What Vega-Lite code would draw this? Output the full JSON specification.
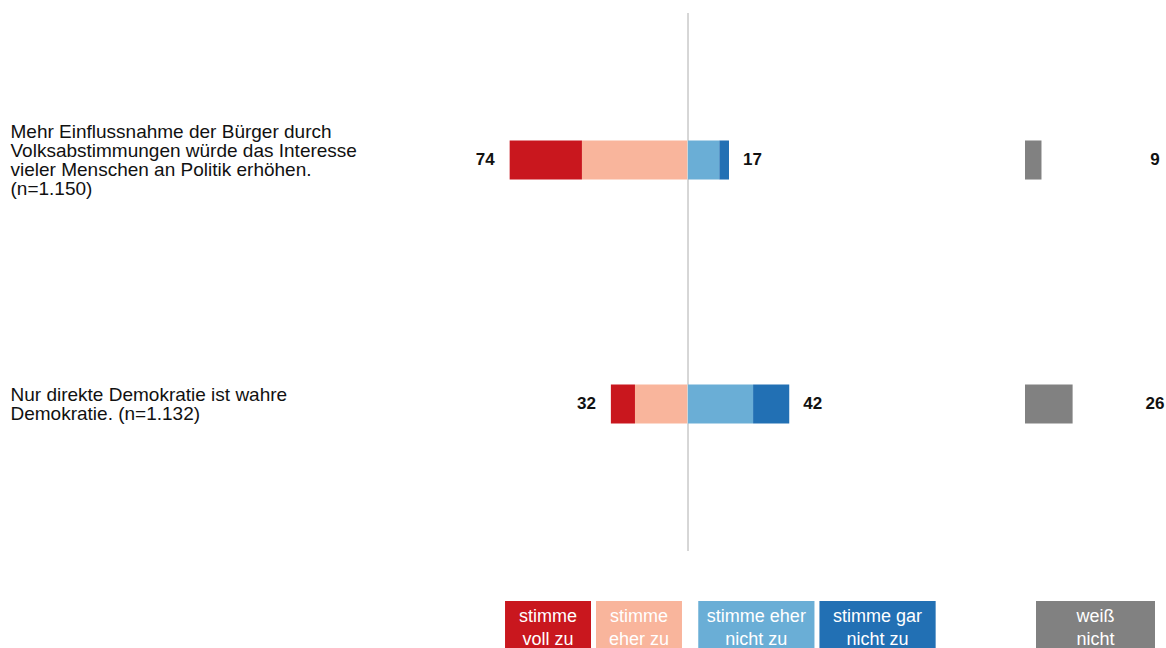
{
  "$schema": "https://vega.github.io/schema/vega-lite/v6.json",
  "padding": {"left": 10, "top": 12, "right": 0, "bottom": 0},
  "autosize": {"type": "pad"},
  "background": "white",
  "config": {"view": {"stroke": null}, "font": "Liberation Sans"},
  "datasets": {
    "bars": [
      {"item": "Mehr Einflussnahme der Bürger durch\nVolksabstimmungen würde das Interesse\nvieler Menschen an Politik erhöhen.\n(n=1.150)", "category": "stimme voll zu", "value": 30},
      {"item": "Mehr Einflussnahme der Bürger durch\nVolksabstimmungen würde das Interesse\nvieler Menschen an Politik erhöhen.\n(n=1.150)", "category": "stimme eher zu", "value": 44},
      {"item": "Mehr Einflussnahme der Bürger durch\nVolksabstimmungen würde das Interesse\nvieler Menschen an Politik erhöhen.\n(n=1.150)", "category": "stimme eher nicht zu", "value": 13},
      {"item": "Mehr Einflussnahme der Bürger durch\nVolksabstimmungen würde das Interesse\nvieler Menschen an Politik erhöhen.\n(n=1.150)", "category": "stimme gar nicht zu", "value": 4},
      {"item": "Mehr Einflussnahme der Bürger durch\nVolksabstimmungen würde das Interesse\nvieler Menschen an Politik erhöhen.\n(n=1.150)", "category": "weiß nicht", "value": 9},
      {"item": "Nur direkte Demokratie ist wahre\nDemokratie. (n=1.132)", "category": "stimme voll zu", "value": 10},
      {"item": "Nur direkte Demokratie ist wahre\nDemokratie. (n=1.132)", "category": "stimme eher zu", "value": 22},
      {"item": "Nur direkte Demokratie ist wahre\nDemokratie. (n=1.132)", "category": "stimme eher nicht zu", "value": 27},
      {"item": "Nur direkte Demokratie ist wahre\nDemokratie. (n=1.132)", "category": "stimme gar nicht zu", "value": 15},
      {"item": "Nur direkte Demokratie ist wahre\nDemokratie. (n=1.132)", "category": "weiß nicht", "value": 26}
    ],
    "keys": [
      {"category": "stimme voll zu", "label": "stimme\nvoll zu"},
      {"category": "stimme eher zu", "label": "stimme\neher zu"},
      {"category": "stimme eher nicht zu", "label": "stimme eher\nnicht zu"},
      {"category": "stimme gar nicht zu", "label": "stimme gar\nnicht zu"},
      {"category": "weiß nicht", "label": "weiß\nnicht"}
    ]
  },
  "columns": 3,
  "spacing": {"row": 50, "column": 0},
  "bounds": "flush",
  "resolve": {"scale": {"x": "independent", "y": "independent", "color": "independent"}},
  "concat": [
    {
      "width": 241,
      "height": 538,
      "data": {"name": "bars"},
      "transform": [{"filter": {"field": "category", "oneOf": ["stimme voll zu", "stimme eher zu"]}}],
      "layer": [
        {
          "mark": {"type": "bar"},
          "encoding": {
            "y": {
              "field": "item", "type": "nominal", "sort": null,
              "scale": {"paddingInner": 0.84, "paddingOuter": 0.5225},
              "axis": {
                "title": null, "domain": false, "ticks": false, "tickSize": 0, "grid": false,
                "labelAlign": "left", "labelPadding": 437, "labelLimit": 0,
                "labelFontSize": 19, "labelLineHeight": 19, "labelColor": "#111111",
                "labelFont": "Liberation Sans", "labelOverlap": false, "labelBound": false,
                "labelBaseline": "middle",
                "labelOffset": {"condition": {"test": "indexof(datum.value, '(n=1.150)') >= 0", "value": -28}, "value": -9},
                "labelExpr": "split(datum.value, '\\n')"
              }
            },
            "x": {"field": "value", "type": "quantitative", "stack": "zero", "scale": {"domain": [0, 100], "reverse": true, "nice": false, "zero": true}, "axis": null},
            "color": {"field": "category", "type": "nominal", "legend": null,
              "scale": {"domain": ["stimme voll zu", "stimme eher zu", "stimme eher nicht zu", "stimme gar nicht zu", "weiß nicht"],
                        "range": ["#c9171e", "#f9b59c", "#6aaed6", "#2270b4", "#818181"]}},
            "order": {"field": "category", "type": "nominal", "sort": "ascending"}
          }
        },
        {
          "mark": {"type": "text", "align": "right", "baseline": "middle", "dx": -15, "fontWeight": "bold", "fontSize": 17, "color": "#111111"},
          "encoding": {
            "y": {"field": "item", "type": "nominal", "sort": null},
            "x": {"aggregate": "sum", "field": "value", "type": "quantitative", "axis": null},
            "text": {"aggregate": "sum", "field": "value", "type": "quantitative"}
          }
        }
      ]
    },
    {
      "width": 337,
      "height": 538,
      "data": {"name": "bars"},
      "transform": [{"filter": {"field": "category", "oneOf": ["stimme eher nicht zu", "stimme gar nicht zu"]}}],
      "layer": [
        {
          "mark": {"type": "rule", "color": "#d4d4d4", "strokeWidth": 1},
          "encoding": {"x": {"datum": 0, "type": "quantitative", "axis": null}}
        },
        {
          "mark": {"type": "bar"},
          "encoding": {
            "y": {"field": "item", "type": "nominal", "sort": null, "scale": {"paddingInner": 0.84, "paddingOuter": 0.5225}, "axis": null},
            "x": {"field": "value", "type": "quantitative", "stack": "zero", "scale": {"domain": [0, 139.8], "nice": false, "zero": true}, "axis": null},
            "color": {"field": "category", "type": "nominal", "legend": null,
              "scale": {"domain": ["stimme voll zu", "stimme eher zu", "stimme eher nicht zu", "stimme gar nicht zu", "weiß nicht"],
                        "range": ["#c9171e", "#f9b59c", "#6aaed6", "#2270b4", "#818181"]}},
            "order": {"field": "category", "type": "nominal", "sort": "ascending"}
          }
        },
        {
          "mark": {"type": "text", "align": "left", "baseline": "middle", "dx": 14, "fontWeight": "bold", "fontSize": 17, "color": "#111111"},
          "encoding": {
            "y": {"field": "item", "type": "nominal", "sort": null, "axis": null},
            "x": {"aggregate": "sum", "field": "value", "type": "quantitative", "axis": null},
            "text": {"aggregate": "sum", "field": "value", "type": "quantitative"}
          }
        }
      ]
    },
    {
      "width": 141,
      "height": 538,
      "data": {"name": "bars"},
      "transform": [{"filter": {"field": "category", "equal": "weiß nicht"}}],
      "layer": [
        {
          "mark": {"type": "bar"},
          "encoding": {
            "y": {"field": "item", "type": "nominal", "sort": null, "scale": {"paddingInner": 0.84, "paddingOuter": 0.5225}, "axis": null},
            "x": {"field": "value", "type": "quantitative", "scale": {"domain": [0, 77], "nice": false}, "axis": null},
            "color": {"value": "#818181"}
          }
        },
        {
          "mark": {"type": "text", "align": "center", "baseline": "middle", "fontWeight": "bold", "fontSize": 17, "color": "#111111"},
          "encoding": {
            "y": {"field": "item", "type": "nominal", "sort": null, "axis": null},
            "x": {"datum": 71, "type": "quantitative", "axis": null},
            "text": {"field": "value", "type": "quantitative"}
          }
        }
      ]
    },
    {
      "width": 241,
      "height": 48,
      "data": {"name": "keys"},
      "transform": [{"filter": {"field": "category", "oneOf": ["stimme voll zu", "stimme eher zu"]}}],
      "layer": [
        {
          "mark": {"type": "bar"},
          "encoding": {
            "x": {"field": "category", "type": "nominal", "sort": ["stimme voll zu", "stimme eher zu"], "scale": {"paddingInner": 0.055, "paddingOuter": 0.352, "align": 0.906}, "axis": null},
            "color": {"field": "category", "type": "nominal", "legend": null,
              "scale": {"domain": ["stimme voll zu", "stimme eher zu", "stimme eher nicht zu", "stimme gar nicht zu", "weiß nicht"],
                        "range": ["#c9171e", "#f9b59c", "#6aaed6", "#2270b4", "#818181"]}}
          }
        },
        {
          "mark": {"type": "text", "color": "white", "fontSize": 18, "lineBreak": "\n", "lineHeight": 23, "baseline": "middle", "dy": -8},
          "encoding": {
            "x": {"field": "category", "type": "nominal", "sort": ["stimme voll zu", "stimme eher zu"], "axis": null},
            "text": {"field": "label", "type": "nominal"}
          }
        }
      ]
    },
    {
      "width": 337,
      "height": 48,
      "data": {"name": "keys"},
      "transform": [{"filter": {"field": "category", "oneOf": ["stimme eher nicht zu", "stimme gar nicht zu"]}}],
      "layer": [
        {
          "mark": {"type": "bar"},
          "encoding": {
            "x": {"field": "category", "type": "nominal", "sort": ["stimme eher nicht zu", "stimme gar nicht zu"], "scale": {"paddingInner": 0.041, "paddingOuter": 0.411, "align": 0.103}, "axis": null},
            "color": {"field": "category", "type": "nominal", "legend": null,
              "scale": {"domain": ["stimme voll zu", "stimme eher zu", "stimme eher nicht zu", "stimme gar nicht zu", "weiß nicht"],
                        "range": ["#c9171e", "#f9b59c", "#6aaed6", "#2270b4", "#818181"]}}
          }
        },
        {
          "mark": {"type": "text", "color": "white", "fontSize": 18, "lineBreak": "\n", "lineHeight": 23, "baseline": "middle", "dy": -8},
          "encoding": {
            "x": {"field": "category", "type": "nominal", "sort": ["stimme eher nicht zu", "stimme gar nicht zu"], "axis": null},
            "text": {"field": "label", "type": "nominal"}
          }
        }
      ]
    },
    {
      "width": 141,
      "height": 48,
      "data": {"name": "keys"},
      "transform": [{"filter": {"field": "category", "equal": "weiß nicht"}}],
      "layer": [
        {
          "mark": {"type": "bar", "color": "#818181"},
          "encoding": {
            "x": {"field": "category", "type": "nominal", "scale": {"paddingInner": 0, "paddingOuter": 0.0924, "align": 0.5}, "axis": null}
          }
        },
        {
          "mark": {"type": "text", "color": "white", "fontSize": 18, "lineBreak": "\n", "lineHeight": 23, "baseline": "middle", "dy": -8},
          "encoding": {
            "x": {"field": "category", "type": "nominal", "axis": null},
            "text": {"field": "label", "type": "nominal"}
          }
        }
      ]
    }
  ]
}
